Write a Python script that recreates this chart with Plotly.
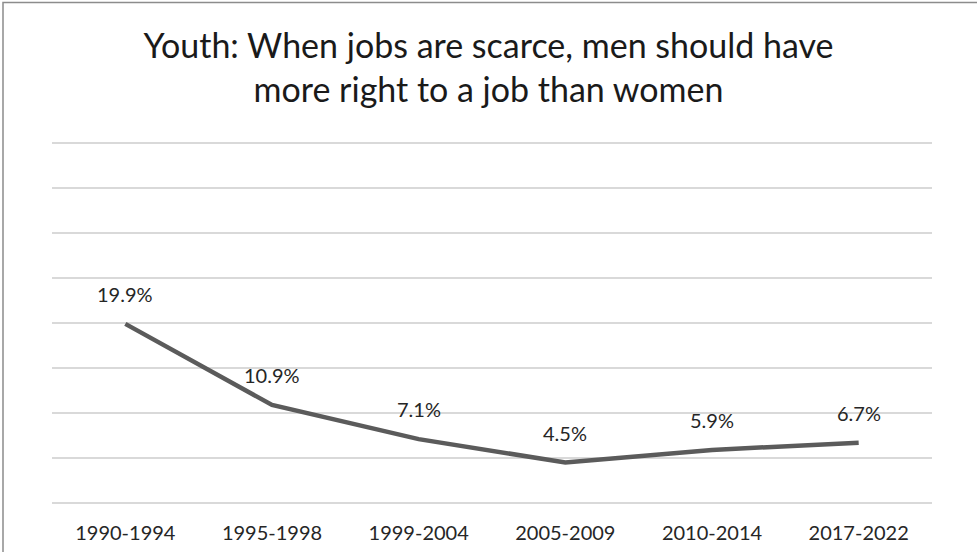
import plotly.graph_objects as go

periods = ["1990-1994", "1995-1998", "1999-2004", "2005-2009", "2010-2014", "2017-2022"]
values = [19.9, 10.9, 7.1, 4.5, 5.9, 6.7]
labels = [f"{v:.1f}%" for v in values]

W, H = 977, 552
ML, MR, MT, MB = 52, 45, 134, 49
FONT = "Lato, sans-serif"

fig = go.Figure()
fig.add_trace(go.Scatter(
    x=periods, y=values, mode="lines",
    line=dict(color="#5b5b5b", width=4.5),
    hoverinfo="skip", showlegend=False,
))
for p, v, t in zip(periods, values, labels):
    fig.add_annotation(x=p, y=v, text=t, showarrow=False, yshift=30,
                       font=dict(family=FONT, size=20, color="#262626"))

pw = W - ML - MR
ph = H - MT - MB
fig.add_shape(type="rect", xref="paper", yref="paper",
              x0=(3 - ML) / pw, x1=(W + 10 - ML) / pw,
              y0=-(MB + 10) / ph, y1=1 + (MT - 2.5) / ph,
              line=dict(color="#8c8c8c", width=1.5), layer="above")

fig.update_layout(
    width=W, height=H,
    margin=dict(l=ML, r=MR, t=MT, b=MB, autoexpand=False),
    paper_bgcolor="white", plot_bgcolor="white",
    title=dict(text="Youth: When jobs are scarce, men should have<br>more right to a job than women",
               x=0.5, xanchor="center", y=1 - 58 / H, yanchor="middle",
               font=dict(family=FONT, size=34, color="#1a1a1a")),
    xaxis=dict(type="category", showgrid=False, showline=False, zeroline=False,
               ticks="", ticklabelstandoff=16, automargin=False,
               tickfont=dict(family=FONT, size=20, color="#262626"),
               range=[-0.5, len(periods) - 0.5]),
    yaxis=dict(range=[0, 41], dtick=5, showticklabels=False, showgrid=True,
               gridcolor="#d9d9d9", gridwidth=1.5, zeroline=True, automargin=False,
               zerolinecolor="#d9d9d9", zerolinewidth=1.5, showline=False, ticks=""),
)
fig.write_html("out.html")
